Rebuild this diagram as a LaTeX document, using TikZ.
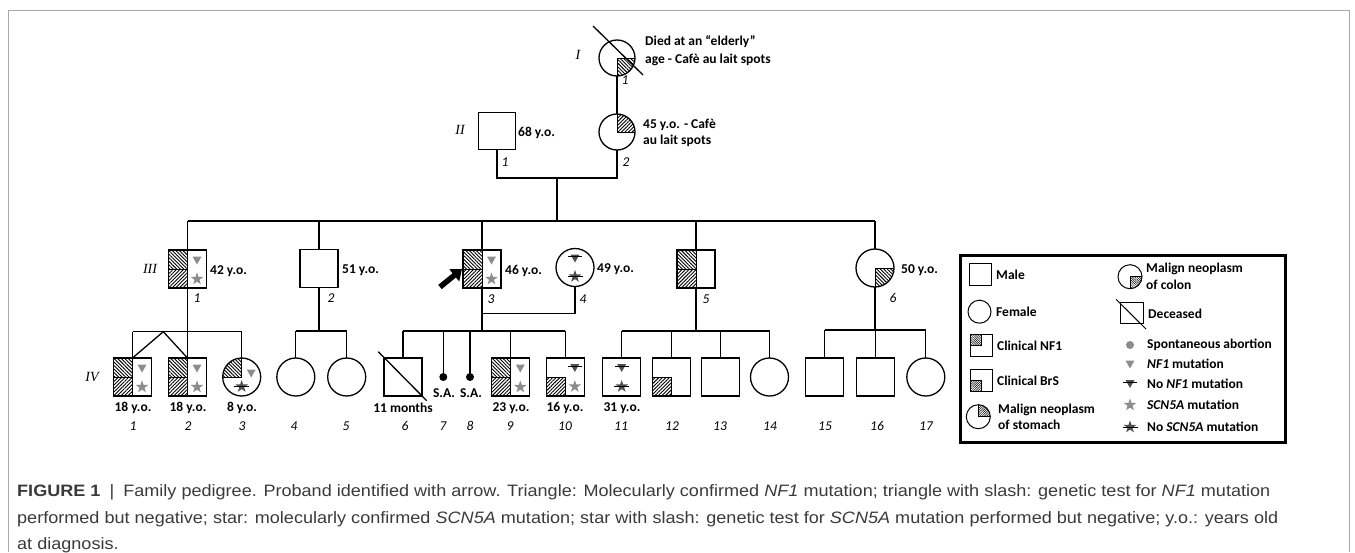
\documentclass[tikz,border=0pt]{standalone}
\usepackage{fontspec}
\usepackage{graphicx}
\setmainfont{Carlito}
\newfontfamily\capfont{Liberation Sans}
\newfontfamily\romfont{Liberation Serif}
\usetikzlibrary{patterns.meta,arrows.meta}
\definecolor{mk}{HTML}{8C8C8C}
\definecolor{mkd}{HTML}{505050}
\definecolor{framec}{HTML}{A8A8A8}
\definecolor{captxt}{HTML}{3A3A3A}
\newsavebox\capA
\newsavebox\capB
\newsavebox\capC
\newdimen\capwA
\newdimen\capwB
\newcommand\circq[4]{\begin{scope}\clip (#1.center) circle[radius=#2];\fill[#4] (#1.center) rectangle ++(#3);\end{scope}}
\tikzset{
  ln/.style={line width=1.3pt},
  hl/.style={line width=0.8pt},
  male/.style={draw, rectangle, minimum size=38pt, inner sep=0pt, outer sep=0pt, line width=1.3pt},
  female/.style={draw, circle, minimum size=38pt, inner sep=0pt, outer sep=0pt, line width=1.3pt},
  lmale/.style={draw, rectangle, minimum size=22pt, inner sep=0pt, outer sep=0pt, line width=1pt},
  lfemale/.style={draw, circle, minimum size=23pt, inner sep=0pt, outer sep=0pt, line width=1pt},
  sadot/.style={circle, fill=black, minimum size=8pt, inner sep=0pt, outer sep=0pt},
  pnw/.style={pattern={Lines[angle=-45,distance=2.5pt,line width=0.9pt]}},
  pne/.style={pattern={Lines[angle=45,distance=2.5pt,line width=0.9pt]}},
  lpnw/.style={pattern={Lines[angle=-45,distance=1.6pt,line width=0.5pt]}},
  lpne/.style={pattern={Lines[angle=45,distance=1.6pt,line width=0.5pt]}},
  lbl/.style={font=\bfseries\fontsize{13.5}{15}\selectfont, inner sep=0pt},
  num/.style={font=\itshape\fontsize{13.5}{15}\selectfont, inner sep=0pt},
  gen/.style={font=\romfont\itshape\fontsize{14}{16}\selectfont, inner sep=0pt},
  gtri/.pic={\fill[mk] (-4.5pt,3.5pt) -- (4.5pt,3.5pt) -- (0pt,-4.5pt) -- cycle;},
  ntri/.pic={\fill[mkd] (-4.5pt,3.5pt) -- (4.5pt,3.5pt) -- (0pt,-4.5pt) -- cycle; \draw[line width=1pt] (-7pt,1.5pt) -- (7pt,1.5pt);},
  gstar/.pic={\fill[mk] (90:6.5pt) -- (126:2.6pt) -- (162:6.5pt) -- (198:2.6pt) -- (234:6.5pt) -- (270:2.6pt) -- (306:6.5pt) -- (342:2.6pt) -- (18:6.5pt) -- (54:2.6pt) -- cycle;},
  nstar/.pic={\fill[mkd] (90:6.5pt) -- (126:2.6pt) -- (162:6.5pt) -- (198:2.6pt) -- (234:6.5pt) -- (270:2.6pt) -- (306:6.5pt) -- (342:2.6pt) -- (18:6.5pt) -- (54:2.6pt) -- cycle; \draw[line width=1pt] (-7.5pt,0pt) -- (7.5pt,0pt);}
}
\begin{document}
\sbox\capA{\capfont\fontsize{16.5}{19}\selectfont\color{captxt}\textbf{FIGURE 1}\enspace|\enspace Family pedigree. Proband identified with arrow. Triangle: Molecularly confirmed \textit{NF1} mutation; triangle with slash: genetic test for \textit{NF1} mutation}%
\sbox\capB{\capfont\fontsize{16.5}{19}\selectfont\color{captxt}performed but negative; star: molecularly confirmed \textit{SCN5A} mutation; star with slash: genetic test for \textit{SCN5A} mutation performed but negative; y.o.: years old}%
\sbox\capC{\capfont\fontsize{16.5}{19}\selectfont\color{captxt}at diagnosis.}%
\capwA=\wd\capA
\capwB=\wd\capB
\pgfmathsetmacro\capsA{1253/\capwA}%
\pgfmathsetmacro\capsB{1261/\capwB}%
\begin{tikzpicture}[x=1pt,y=-1pt]
\useasboundingbox (0,0) rectangle (1355,552);
% frame
\coordinate (fa) at (8,552); \coordinate (fb) at (8,10); \coordinate (fc) at (1349,10); \coordinate (fd) at (1349,552);
\draw[framec, line width=1pt] (fa) -- (fb) -- (fc) -- (fd);

% ---------- Generation I / II
\node[female, minimum size=36pt] (I1) at (617,58) {};
\circq{I1}{18pt}{20pt,-20pt}{pnw}
\draw[hl] (I1.east) -- (I1.center) -- (I1.south);
\coordinate (I1a) at (593,26); \coordinate (I1b) at (643,75);
\draw[ln] (I1a) -- (I1b);
\node[male, minimum size=37pt] (II1) at (497,131) {};
\node[female, minimum size=36pt] (II2) at (617,132) {};
\circq{II2}{18pt}{20pt,20pt}{pne}
\draw[hl] (II2.east) -- (II2.center) -- (II2.north);
\draw[ln] (I1.south) -- (II2.north);
\coordinate (II1d) at (497,178); \coordinate (II2d) at (617,178);
\coordinate (IIm) at (557,178); \coordinate (s3a) at (187.5,221); \coordinate (s3b) at (875,221);
\draw[ln] (II1.south) -- (II1d) -- (II2d) -- (II2.south);
\draw[ln] (IIm) -- (IIm |- s3a);
\draw[ln] (s3a) -- (s3b);

% ---------- Generation III
\node[male] (III1) at (187.5,269) {};
\node[male] (III2) at (319,268.5) {};
\node[male] (III3) at (482,269) {};
\node[female] (III4) at (575,267.5) {};
\node[male] (III5) at (696,269) {};
\node[female] (III6) at (875,268) {};
\foreach \n in {III1,III3,III5}{
  \draw[hl,pnw] (\n.center) rectangle (\n.north west);
  \draw[hl,pne] (\n.center) rectangle (\n.south west);
}
\foreach \n in {III1,III3}{
  \pic at ([shift={(9.5,-9)}]\n.center) {gtri};
  \pic at ([shift={(9.5,10)}]\n.center) {gstar};
}
\pic at ([shift={(0,-9.5)}]III4.center) {ntri};
\pic at ([shift={(0,9)}]III4.center) {nstar};
\circq{III6}{19pt}{20pt,-20pt}{pnw}
\draw[hl] (III6.east) -- (III6.center) -- (III6.south);
\foreach \n in {III1,III2,III3,III5,III6}{\draw[ln] (\n.north) -- (\n.north |- s3a);}
\coordinate (arrt) at (440,287);
\draw[line width=5.5pt, -{Triangle[length=10pt,width=15pt]}] (arrt) -- ([shift={(-1,0)}]III3.west);
\coordinate (m34) at (575,313.3);
\draw[ln] (III4.south) -- (m34) -- (m34 -| III3.south);

% ---------- Generation IV
\node[male] (IV1) at (132.5,377) {};
\node[male] (IV2) at (187.5,377) {};
\node[female] (IV3) at (241.7,377) {};
\node[female] (IV4) at (295.8,377) {};
\node[female] (IV5) at (346.7,377) {};
\node[male] (IV6) at (403,377) {};
\node[sadot] (IV7) at (443.3,377) {};
\node[sadot] (IV8) at (470,377) {};
\node[male] (IV9) at (510.8,377) {};
\node[male] (IV10) at (565.3,377) {};
\node[male] (IV11) at (621.7,377) {};
\node[male] (IV12) at (671.7,377) {};
\node[male] (IV13) at (720.5,377) {};
\node[female] (IV14) at (769.5,377) {};
\node[male] (IV15) at (824.5,377) {};
\node[male] (IV16) at (875.3,377) {};
\node[female] (IV17) at (925.8,377) {};
\foreach \n in {IV1,IV2,IV9}{
  \draw[hl,pnw] (\n.center) rectangle (\n.north west);
  \draw[hl,pne] (\n.center) rectangle (\n.south west);
  \pic at ([shift={(9.5,-9)}]\n.center) {gtri};
  \pic at ([shift={(9.5,10)}]\n.center) {gstar};
}
\circq{IV3}{19pt}{-20pt,20pt}{pnw}
\draw[hl] (IV3.west) -- (IV3.center) -- (IV3.north);
\pic at ([shift={(9.5,-4)}]IV3.center) {gtri};
\pic at ([shift={(0,9.5)}]IV3.center) {nstar};
\coordinate (IV6a) at (378.3,351.7); \coordinate (IV6b) at (426.7,400.7);
\draw[ln] (IV6a) -- (IV6b);
\draw[hl,pne] (IV10.center) rectangle (IV10.south west);
\pic at ([shift={(9.5,-9.5)}]IV10.center) {ntri};
\pic at ([shift={(9.5,9.5)}]IV10.center) {gstar};
\pic at ([shift={(0,-9.5)}]IV11.center) {ntri};
\pic at ([shift={(0,9.5)}]IV11.center) {nstar};
\draw[hl,pne] (IV12.center) rectangle (IV12.south west);

% sibship lines
\coordinate (s1a) at (132.5,331.7); \coordinate (s1b) at (241.7,331.7); \coordinate (tw) at (163.3,331.7);
\draw[ln] (s1a) -- (s1b);
\draw[ln] (III1.south) -- (IV2.north);
\draw[ln] (s1a) -- (IV1.north);
\draw[ln] (s1b) -- (IV3.north);
\draw[ln] (tw) -- (IV1.north);
\draw[ln] (tw) -- (IV2.north);
\coordinate (s2a) at (295.8,331); \coordinate (s2b) at (346.7,331);
\draw[ln] (s2a) -- (s2b);
\draw[ln] (III2.south) -- (III2.south |- s2a);
\foreach \n in {IV4,IV5}{\draw[ln] (\n.north) -- (\n.north |- s2a);}
\coordinate (s4a) at (403,331); \coordinate (s4b) at (565.3,331);
\draw[ln] (s4a) -- (s4b);
\draw[ln] (III3.south) -- (III3.south |- s4a);
\foreach \n in {IV6,IV7,IV8,IV9,IV10}{\draw[ln] (\n.north) -- (\n.north |- s4a);}
\coordinate (s5a) at (621.7,331); \coordinate (s5b) at (769.5,331);
\draw[ln] (s5a) -- (s5b);
\draw[ln] (III5.south) -- (III5.south |- s5a);
\foreach \n in {IV11,IV12,IV13,IV14}{\draw[ln] (\n.north) -- (\n.north |- s5a);}
\coordinate (s6a) at (824.5,330); \coordinate (s6b) at (925.8,330);
\draw[ln] (s6a) -- (s6b);
\draw[ln] (III6.south) -- (III6.south |- s6a);
\foreach \n in {IV15,IV16,IV17}{\draw[ln] (\n.north) -- (\n.north |- s6a);}

% ---------- labels
\node[gen] (gI) at (578,55) {I};
\node[gen] (gII) at (460,130) {II};
\node[gen] (gIII) at (150,269) {III};
\node[gen] (gIV) at (92,377) {IV};
\node[lbl, anchor=west] (tI1a) at (645,42) {Died at an “elderly”};
\node[lbl, anchor=west] (tI1b) at (645,60) {age - Cafè au lait spots};
\node[lbl, anchor=west] (tII1) at (518,133) {68 y.o.};
\node[lbl, anchor=west] (tII2a) at (643,125) {45 y.o. - Cafè};
\node[lbl, anchor=west] (tII2b) at (643,141) {au lait spots};
\node[lbl, anchor=west] (tIII1) at (210,271) {42 y.o.};
\node[lbl, anchor=west] (tIII2) at (342,270) {51 y.o.};
\node[lbl, anchor=west] (tIII3) at (505,271) {46 y.o.};
\node[lbl, anchor=west] (tIII4) at (597,269) {49 y.o.};
\node[lbl, anchor=west] (tIII6) at (901,270) {50 y.o.};
\node[lbl] (tIV1) at (133,408) {18 y.o.};
\node[lbl] (tIV2) at (188,408) {18 y.o.};
\node[lbl] (tIV3) at (242,408) {8 y.o.};
\node[lbl] (tIV6) at (403,408) {11 months};
\node[lbl] (tIV7) at (444,393) {S.A.};
\node[lbl] (tIV8) at (471,393) {S.A.};
\node[lbl] (tIV9) at (511,408) {23 y.o.};
\node[lbl] (tIV10) at (565,408) {16 y.o.};
\node[lbl] (tIV11) at (622,408) {31 y.o.};
\node[num] (nI1) at (625,80) {1};
\node[num] (nII1) at (505,162) {1};
\node[num] (nII2) at (626,162) {2};
\node[num] (nIII1) at (197,298) {1};
\node[num] (nIII2) at (331,298) {2};
\node[num] (nIII3) at (491,299) {3};
\node[num] (nIII4) at (583,299) {4};
\node[num] (nIII5) at (706,299) {5};
\node[num] (nIII6) at (893,298) {6};
\foreach \k/\x in {1/133,2/188,3/242,4/294,5/346,6/405,7/443,8/470,9/510,10/565,11/621,12/672,13/720,14/770,15/825,16/877,17/926}{
  \node[num] (nIV\k) at (\x,426) {\k};
}

% ---------- legend
\node[draw, line width=3pt, minimum width=325pt, minimum height=187pt, inner sep=0pt] (legbox) at (1122.5,348.5) {};
\node[lmale] (LM) at (980.5,274.5) {};
\node[lfemale] (LF) at (979.5,311.7) {};
\node[lmale] (LN) at (981,345) {};
\draw[line width=0.5pt,lpnw] (LN.center) rectangle (LN.north west);
\node[lmale] (LB) at (981,380) {};
\draw[line width=0.5pt,lpne] (LB.center) rectangle (LB.south west);
\node[lfemale, minimum size=24pt] (LS) at (978.3,416.7) {};
\circq{LS}{12pt}{13pt,13pt}{lpne}
\draw[line width=0.5pt] (LS.east) -- (LS.center) -- (LS.north);
\node[lfemale, minimum size=24pt] (LC) at (1130,276.7) {};
\circq{LC}{12pt}{13pt,-13pt}{lpnw}
\draw[line width=0.5pt] (LC.east) -- (LC.center) -- (LC.south);
\node[lmale, minimum width=23pt, minimum height=21pt] (LD) at (1131.7,313.3) {};
\coordinate (LDa) at (1116,299.3); \coordinate (LDb) at (1146,329);
\draw[line width=1pt] (LDa) -- (LDb);
\node[circle, fill=mk, minimum size=8pt, inner sep=0pt] (LSA) at (1130,345) {};
\pic at (1130,364) {gtri};
\pic at (1130,383.5) {ntri};
\pic at (1130,405) {gstar};
\pic at (1130,427) {nstar};
\node[lbl, anchor=west] (lt1) at (996,275) {Male};
\node[lbl, anchor=west] (lt2) at (996,312) {Female};
\node[lbl, anchor=west] (lt3) at (997,346) {Clinical NF1};
\node[lbl, anchor=west] (lt4) at (997,381) {Clinical BrS};
\node[lbl, anchor=west] (lt5) at (998,410) {Malign neoplasm};
\node[lbl, anchor=west] (lt6) at (998,425) {of stomach};
\node[lbl, anchor=west] (lt7) at (1146,269) {Malign neoplasm};
\node[lbl, anchor=west] (lt8) at (1146,285) {of colon};
\node[lbl, anchor=west] (lt9) at (1148,313.5) {Deceased};
\node[lbl, anchor=west] (lt10) at (1147,345) {Spontaneous abortion};
\node[lbl, anchor=west] (lt11) at (1147,364) {\textit{NF1} mutation};
\node[lbl, anchor=west] (lt12) at (1147,383.5) {No \textit{NF1} mutation};
\node[lbl, anchor=west] (lt13) at (1147,405) {\textit{SCN5A} mutation};
\node[lbl, anchor=west] (lt14) at (1147,427) {No \textit{SCN5A} mutation};

% ---------- caption
\node[anchor=base west, inner sep=0pt] (cap1) at (17,496) {\scalebox{\capsA}[1]{\usebox\capA}};
\node[anchor=base west, inner sep=0pt] (cap2) at (17,523) {\scalebox{\capsB}[1]{\usebox\capB}};
\node[anchor=base west, inner sep=0pt] (cap3) at (17,549) {\scalebox{\capsA}[1]{\usebox\capC}};
\end{tikzpicture}
\end{document}
